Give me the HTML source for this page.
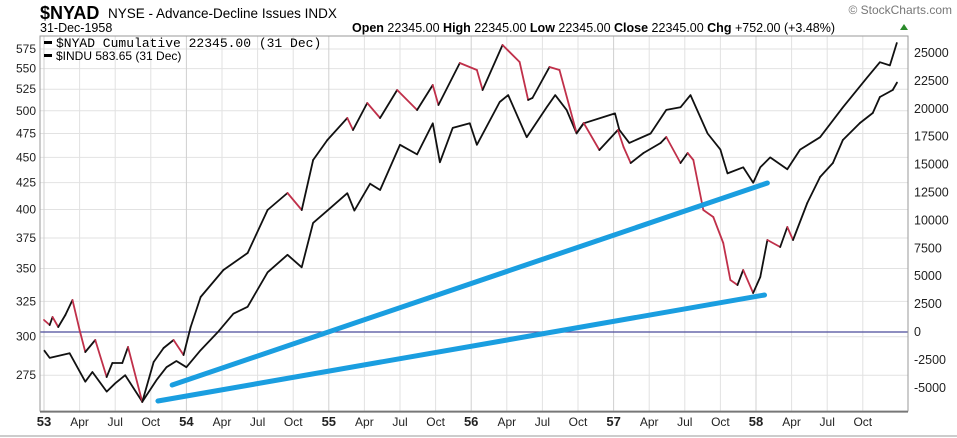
<!DOCTYPE html>
<html><head><meta charset="utf-8"><style>
body{margin:0;background:#fff;width:957px;height:438px;overflow:hidden;font-family:"Liberation Sans",sans-serif}
svg{position:absolute;left:0;top:0}
</style></head><body>
<svg id="c" width="957" height="438" xmlns="http://www.w3.org/2000/svg">
<text x="40" y="19" font-size="18" font-weight="bold" fill="#000">$NYAD</text>
<text x="108" y="18" font-size="13.5" fill="#000">NYSE - Advance-Decline Issues INDX</text>
<text x="40" y="32" font-size="12.5" fill="#000">31-Dec-1958</text>
<text x="352" y="32" font-size="12.5" fill="#000"><tspan font-weight="bold">Open</tspan> 22345.00  <tspan font-weight="bold">High</tspan> 22345.00  <tspan font-weight="bold">Low</tspan> 22345.00  <tspan font-weight="bold">Close</tspan> 22345.00  <tspan font-weight="bold">Chg</tspan> +752.00 (+3.48%)</text>
<polygon points="900,30 908,30 904,24" fill="#2a8a2a"/>
<text x="952" y="14" font-size="12" fill="#777" text-anchor="end">© StockCharts.com</text>
<g id="grid"></g><g id="series"></g>
<rect x="40" y="36" width="868" height="375" fill="none" stroke="#999" stroke-width="1"/>
<line x1="40" y1="412" x2="908" y2="412" stroke="#555"/>
<g>
<rect x="44" y="41" width="8" height="3" fill="#000"/>
<text x="56" y="47" font-family="Liberation Mono,monospace" font-size="13">$NYAD Cumulative 22345.00 (31 Dec)</text>
<rect x="44" y="54" width="8" height="3" fill="#000"/>
<text x="56" y="60" font-size="12">$INDU 583.65 (31 Dec)</text>
</g>
<line x1="0" y1="436" x2="957" y2="436" stroke="#ccc" stroke-width="2"/>
</svg>
<script>
const nyadDates=[1953.0,1953.04,1953.06,1953.10,1953.15,1953.20,1953.25,1953.29,1953.36,1953.44,1953.48,1953.55,1953.59,1953.69,1953.77,1953.84,1953.91,1953.98,1954.03,1954.10,1954.26,1954.43,1954.57,1954.71,1954.81,1954.89,1954.99,1955.13,1955.17,1955.27,1955.36,1955.48,1955.62,1955.73,1955.77,1955.92,1956.04,1956.08,1956.22,1956.34,1956.40,1956.43,1956.55,1956.62,1956.74,1956.79,1956.90,1957.03,1957.07,1957.12,1957.21,1957.33,1957.37,1957.47,1957.52,1957.56,1957.63,1957.70,1957.77,1957.82,1957.87,1957.91,1957.98,1958.03,1958.08,1958.17,1958.22,1958.26,1958.36,1958.45,1958.54,1958.61,1958.73,1958.82,1958.87,1958.96,1958.99];
const nyadValues=[1075,627,1344,448,1523,2867,179,-1792,-717,-4032,-2778,-2778,-1344,-6272,-2688,-1434,-717,-2061,448,3136,5556,7079,10932,12455,10932,15412,17204,19176,18100,20520,19176,21685,19892,22133,20341,24104,23477,21685,25717,24194,20789,20968,23746,23477,17832,18728,16308,18100,16577,15143,16039,16935,17473,15143,16039,15412,10932,10305,7975,4659,4211,5556,3495,4928,8244,7616,9409,8244,11559,13889,15143,17204,18728,19624,21057,21685,22345];
const induDates=[1953.0,1953.04,1953.18,1953.29,1953.34,1953.44,1953.50,1953.57,1953.69,1953.79,1953.86,1953.93,1954.0,1954.10,1954.22,1954.33,1954.43,1954.57,1954.71,1954.81,1954.89,1954.99,1955.13,1955.18,1955.29,1955.36,1955.50,1955.62,1955.73,1955.78,1955.87,1955.99,1956.04,1956.20,1956.26,1956.39,1956.53,1956.59,1956.67,1956.74,1956.79,1956.93,1957.01,1957.04,1957.11,1957.26,1957.37,1957.47,1957.54,1957.66,1957.75,1957.80,1957.91,1957.98,1958.03,1958.10,1958.22,1958.31,1958.45,1958.61,1958.78,1958.87,1958.94,1958.99];
const induValues=[291,286,289,271,277,265,270,275,259,272,280,284,280,291,303,316,321,347,361,351,388,399,415,399,424,418,463,453,486,445,481,486,463,510,518,471,504,518,501,475,486,493,497,479,465,475,501,504,518,475,458,434,440,425,440,450,438,458,471,504,539,558,554,583.65];
const leftTicks=[275,300,325,350,375,400,425,450,475,500,525,550,575];
const rightTicks=[-5000,-2500,0,2500,5000,7500,10000,12500,15000,17500,20000,22500,25000];
const yearLabels=["53","54","55","56","57","58"];
const monthLabels=["Apr","Jul","Oct"];
const trendStart=[[1953.90,-4750],[1953.80,-6183]];
const trendEnd=[[1958.08,13352],[1958.06,3315]];

const X=t=>44+(t-1953)*142.4;
const YL=v=>2859.5-442.3*Math.log(v);
const YR=v=>332-v*0.01116;
const NS="http://www.w3.org/2000/svg";
const grid=document.getElementById('grid'),ser=document.getElementById('series');
function mk(tag,attrs,parent,txt){const e=document.createElementNS(NS,tag);for(const k in attrs)e.setAttribute(k,attrs[k]);if(txt!=null)e.textContent=txt;parent.appendChild(e);return e;}

leftTicks.forEach(v=>{const y=YL(v);
 const g=mk('line',{x1:40,x2:908,y1:y,y2:y,stroke:'#e2e2e2'},grid);
 
 
 const t=mk('text',{x:36,y:y+4,'font-size':12,'text-anchor':'end',fill:'#222'},grid,String(v));
 
 });
rightTicks.forEach(v=>{const y=YR(v);
 const t=mk('text',{x:914,y:y+4,'font-size':12.5,fill:'#222'},grid,String(v));
 
 });
for(let yi=0;yi<6;yi++){for(let q=0;q<4;q++){const t=1953+yi+q*0.25;const x=X(t);if(x>906)continue;
 const g=mk('line',{x1:x,x2:x,y1:36,y2:411,stroke:q==0?'#d0d0d0':'#e2e2e2'},grid);
 
 
 const lab=q==0?yearLabels[yi]:monthLabels[q-1];
 const tx=mk('text',{x:x,y:426,'font-size':q==0?13:12,'font-weight':q==0?'bold':'normal','text-anchor':'middle',fill:'#222'},grid,lab);
 
 }}
const zl=mk('line',{x1:40,x2:908,y1:YR(0),y2:YR(0),stroke:'#4b4b9a','stroke-width':1.3},grid);



let d='';induDates.forEach((t,i)=>{d+=(i?'L':'M')+X(t).toFixed(1)+','+YL(induValues[i]).toFixed(1);});
const ip=mk('path',{d:d,fill:'none',stroke:'#111','stroke-width':1.8,'stroke-linejoin':'round'},ser);


for(let i=1;i<nyadDates.length;i++){
 const s=mk('line',{x1:X(nyadDates[i-1]),y1:YR(nyadValues[i-1]),x2:X(nyadDates[i]),y2:YR(nyadValues[i]),stroke:nyadValues[i]<nyadValues[i-1]?'#c0304a':'#111','stroke-width':1.8,'stroke-linecap':'round'},ser);
 
 }
trendStart.forEach((p,i)=>{const q=trendEnd[i];
 const l=mk('line',{x1:X(p[0]),y1:YR(p[1]),x2:X(q[0]),y2:YR(q[1]),stroke:'#1a9ee0','stroke-width':5,'stroke-linecap':'round'},ser);
 
 });
</script>
</body></html>
